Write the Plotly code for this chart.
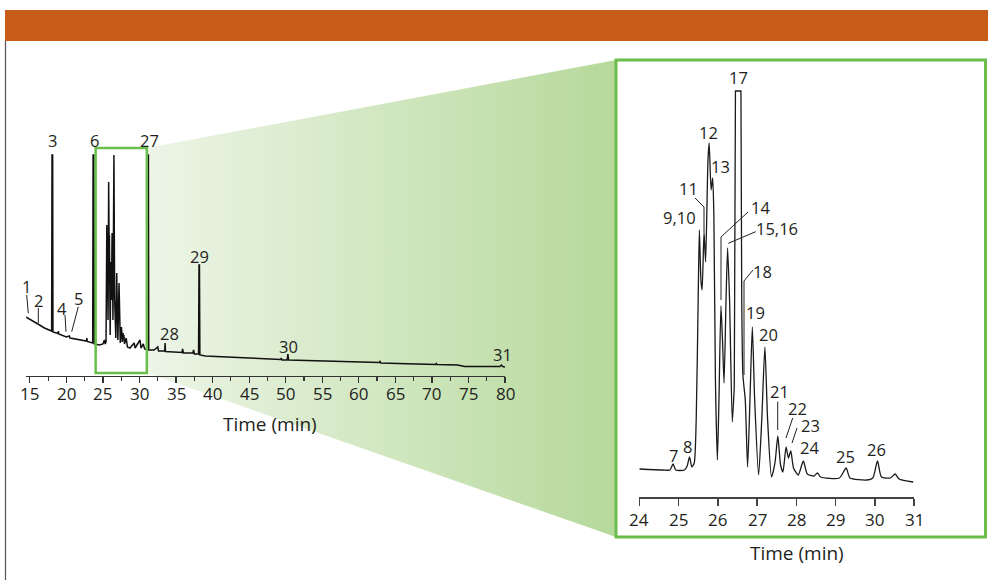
import plotly.graph_objects as go

W, H = 988, 580

# ---------------- DATA ----------------
# Full chromatogram (time in min, relative abundance, arbitrary units)
full_time = [14.45, 14.7, 15.3, 16.1, 17.0, 17.98, 18.03, 18.12, 18.16, 18.85, 18.9, 18.95,
             20.0, 20.4, 20.5, 22.0, 22.75, 22.8, 22.85, 23.6, 23.65, 23.76, 23.82, 24.5,
             25.0, 25.2, 25.3, 25.42, 25.48, 25.53, 25.60, 25.65, 25.70, 25.78, 25.84, 25.88,
             25.95, 25.99, 26.08, 26.16, 26.25, 26.37, 26.50, 26.60, 26.76, 26.88, 27.04, 27.20,
             27.37, 27.53, 27.66, 27.75, 27.80, 27.86, 27.95, 28.18, 28.35, 28.7, 29.27, 29.4,
             30.07, 30.2, 30.52, 30.7, 31.08, 31.12, 31.22, 31.26, 32.0, 32.5, 32.6, 33.45,
             33.5, 33.55, 35.8, 35.9, 36.0, 37.3, 37.4, 37.5, 38.08, 38.14, 38.2, 38.26,
             39.0, 45.0, 49.3, 49.4, 49.5, 50.2, 50.3, 50.4, 55.0, 58.0, 62.8, 62.9, 63.0,
             67.9, 70.5, 70.6, 70.7, 73.5, 74.5, 79.3, 79.5, 79.7, 80.0]
full_abund = [59, 58, 56, 52, 48, 45, 221, 221, 44, 42.5, 45, 42,
              39, 40, 38, 36, 35, 38, 34.5, 33, 221, 221, 32, 31,
              32, 36, 32, 34, 76, 151, 76, 86, 56, 194, 136, 141,
              56, 41, 114, 76, 143, 56, 221, 76, 38, 103, 36, 93,
              33, 49, 34, 43, 38, 41, 32, 38, 29, 28, 33, 28,
              36, 28, 32, 27, 26, 221, 221, 26, 26, 29, 25, 25,
              33, 24.5, 23.5, 27, 23, 23, 26, 22, 22, 111, 111, 21,
              20, 18, 16.5, 18, 16, 16, 22, 16, 15, 14, 13.5, 14.5, 13,
              12, 11.5, 12.5, 11.5, 11, 9.5, 9.5, 11, 9.5, 9]

# Expanded region 24-31 min, split where peak 17 is off-scale (flat top)
zoom_time_a = [24.00, 24.60, 24.78, 24.86, 24.93, 25.15, 25.22, 25.28, 25.34, 25.40, 25.45,
               25.50, 25.53, 25.57, 25.60, 25.65, 25.69, 25.75, 25.78, 25.83, 25.87, 25.90,
               25.94, 25.99, 26.03, 26.08, 26.12, 26.16, 26.21, 26.25, 26.30, 26.37, 26.42]
zoom_abund_a = [28, 27, 27, 33, 27, 27, 31, 40, 30, 34, 77,
                197, 267, 217, 207, 265, 235, 337, 354, 307, 319, 282,
                117, 37, 97, 191, 157, 114, 197, 249, 197, 75, 110]
zoom_time_17 = [26.42, 26.45, 26.59, 26.61]
zoom_abund_17 = [110, 406, 406, 200]
zoom_time_b = [26.61, 26.64, 26.70, 26.76, 26.82, 26.88, 26.94, 27.04, 27.12,
               27.20, 27.27, 27.37, 27.46, 27.53, 27.60, 27.66, 27.74, 27.80, 27.86, 27.93,
               28.05, 28.18, 28.28, 28.45, 28.54, 28.62, 29.10, 29.27, 29.37, 29.80, 29.95,
               30.07, 30.17, 30.40, 30.52, 30.62, 30.98]
zoom_abund_b = [200, 122, 97, 30, 97, 170, 97, 22, 77,
                150, 77, 20, 35, 61, 32, 25, 50, 39, 46, 29,
                22, 36, 23, 21, 24, 20, 19, 29, 19, 17, 19,
                36, 20, 19, 23, 18, 15]

full_ticks = list(range(15, 81, 5))
zoom_ticks = list(range(24, 32))

full_labels = ["1", "2", "3", "4", "5", "6", "27", "28", "29", "30", "31"]
zoom_labels = ["7", "8", "9,10", "11", "12", "13", "14", "15,16", "17", "18",
               "19", "20", "21", "22", "23", "24", "25", "26"]

# ---------------- LAYOUT HELPERS ----------------
def px(x):
    return x / W


def py(y):
    return 1 - y / H


TXT = "#231F20"
GREEN = "#6BBE4B"
FONT = "Open Sans"

full_label_pos = [(26, 287), (38.3, 300), (52.5, 140), (61.7, 308), (78.3, 298), (94.3, 140),
                  (149.3, 140), (169.3, 333), (199.3, 256), (288.3, 346), (502.7, 355)]
zoom_label_pos = [(673.3, 455), (687.3, 446), (679, 218), (688, 188), (708, 132), (720, 167),
                  (760, 207), (777, 228), (738, 78), (762, 271), (755, 312), (768, 334),
                  (779, 391), (797, 408), (810, 425), (809, 447), (845.7, 456), (876, 449)]

leaders = [
    [(26.7, 295), (28.3, 313.3)],
    [(38.3, 308), (38.3, 323)],
    [(65, 315), (66, 331.7)],
    [(78.3, 306.7), (71.7, 331.7)],
    [(695, 198), (704, 207), (704, 232)],
    [(748, 212), (721, 237), (721, 300)],
    [(755.7, 231.7), (728.3, 243.3)],
    [(753, 270), (744, 281), (744, 375)],
    [(777.7, 401.7), (777.7, 430)],
    [(792.7, 418), (786, 438)],
    [(797, 428), (792, 443)],
]

fig = go.Figure()

# gradient connector (pixel-space overlay axes x/y)
fig.add_trace(go.Scatter(
    x=[147, 616, 616, 147, 147], y=[148, 60, 537, 373, 148],
    mode="lines", line=dict(width=0), fill="toself",
    fillgradient=dict(type="horizontal", colorscale=[[0, "#EDF5E7"], [1, "#B6D99B"]]),
    hoverinfo="skip", showlegend=False, xaxis="x", yaxis="y"))

# full chromatogram
fig.add_trace(go.Scatter(x=full_time, y=full_abund, mode="lines",
                         line=dict(color="#111111", width=1.5), showlegend=False,
                         xaxis="x2", yaxis="y2"))
# expanded chromatogram
zl = dict(color="#1a1a1a", width=1.3)
fig.add_trace(go.Scatter(x=zoom_time_a, y=zoom_abund_a, mode="lines",
                         line=dict(shape="spline", smoothing=0.6, **zl),
                         showlegend=False, xaxis="x3", yaxis="y3"))
fig.add_trace(go.Scatter(x=zoom_time_17, y=zoom_abund_17, mode="lines",
                         line=dict(shape="linear", **zl),
                         showlegend=False, xaxis="x3", yaxis="y3"))
fig.add_trace(go.Scatter(x=zoom_time_b, y=zoom_abund_b, mode="lines",
                         line=dict(shape="spline", smoothing=0.6, **zl),
                         showlegend=False, xaxis="x3", yaxis="y3"))

shapes = []
# orange header bar
shapes.append(dict(type="rect", xref="paper", yref="paper", x0=px(5), x1=1, y0=py(41), y1=py(10),
                   fillcolor="#C85C19", line=dict(width=0), layer="below"))
# left frame line
shapes.append(dict(type="line", xref="paper", yref="paper", x0=px(5.5), x1=px(5.5), y0=py(41), y1=0,
                   line=dict(color="#555555", width=1.2)))
# zoom box in full chromatogram
shapes.append(dict(type="rect", xref="x2", yref="paper", x0=24, x1=31, y0=py(373), y1=py(148),
                   line=dict(color=GREEN, width=2.5)))
# inset frame
shapes.append(dict(type="rect", xref="paper", yref="paper", x0=px(616), x1=px(985.5), y0=py(537), y1=py(60),
                   line=dict(color=GREEN, width=3)))
# leader lines
for pts in leaders:
    path = "M " + " L ".join(f"{px(a)},{py(b)}" for a, b in pts)
    shapes.append(dict(type="path", xref="paper", yref="paper", path=path,
                       line=dict(color=TXT, width=1)))

annotations = []
for lab, (x, y) in zip(full_labels + zoom_labels, full_label_pos + zoom_label_pos):
    annotations.append(dict(text=lab, x=px(x), y=py(y), xref="paper", yref="paper",
                            showarrow=False, xanchor="center", yanchor="middle",
                            font=dict(family=FONT, size=16.5, color=TXT)))
# tick labels
for t in full_ticks:
    annotations.append(dict(text=str(t), x=t, xref="x2", y=py(393), yref="paper",
                            showarrow=False, xanchor="center", yanchor="middle",
                            font=dict(family=FONT, size=17, color=TXT)))
for t in zoom_ticks:
    annotations.append(dict(text=str(t), x=t, xref="x3", y=py(519), yref="paper",
                            showarrow=False, xanchor="center", yanchor="middle",
                            font=dict(family=FONT, size=17, color=TXT)))
annotations.append(dict(text="Time (min)", x=px(270), y=py(424), xref="paper", yref="paper",
                        showarrow=False, xanchor="center", yanchor="middle",
                        font=dict(family=FONT, size=19, color=TXT)))
annotations.append(dict(text="Time (min)", x=px(797), y=py(553), xref="paper", yref="paper",
                        showarrow=False, xanchor="center", yanchor="middle",
                        font=dict(family=FONT, size=19, color=TXT)))

hidden = dict(visible=False, fixedrange=True)

fig.update_layout(
    width=W, height=H, margin=dict(l=0, r=0, t=0, b=0),
    paper_bgcolor="white", plot_bgcolor="rgba(0,0,0,0)",
    font=dict(family=FONT, color=TXT),
    xaxis=dict(domain=[0, 1], range=[0, W], **hidden),
    yaxis=dict(domain=[0, 1], range=[H, 0], **hidden),
    xaxis2=dict(domain=[px(26.2), px(505)], range=[14.5, 80], anchor="y2",
                showline=True, linecolor="#333333", linewidth=1.2, showgrid=False, zeroline=False,
                ticks="outside", ticklen=6, tickwidth=1.2, tickcolor="#333333",
                tickvals=full_ticks, showticklabels=False,
                minor=dict(dtick=2.5, tick0=15, ticks="outside", ticklen=4, tickcolor="#333333"),
                fixedrange=True),
    yaxis2=dict(domain=[py(376), py(148)], range=[0, 228], anchor="x2", visible=False, fixedrange=True),
    xaxis3=dict(domain=[px(639.3), px(914)], range=[24, 31], anchor="y3",
                showline=True, linecolor="#444444", linewidth=1.5, showgrid=False, zeroline=False,
                ticks="outside", ticklen=7, tickwidth=1.5, tickcolor="#444444",
                tickvals=zoom_ticks, showticklabels=False,
                fixedrange=True),
    yaxis3=dict(domain=[py(497), py(87)], range=[0, 410], anchor="x3", visible=False, fixedrange=True),
    shapes=shapes, annotations=annotations,
)

fig.write_html("out.html",
               config={"displayModeBar": False, "staticPlot": True},
               post_script="document.body.style.margin='0px';"
                           "document.documentElement.style.overflow='hidden';"
                           "document.body.style.overflow='hidden';")
